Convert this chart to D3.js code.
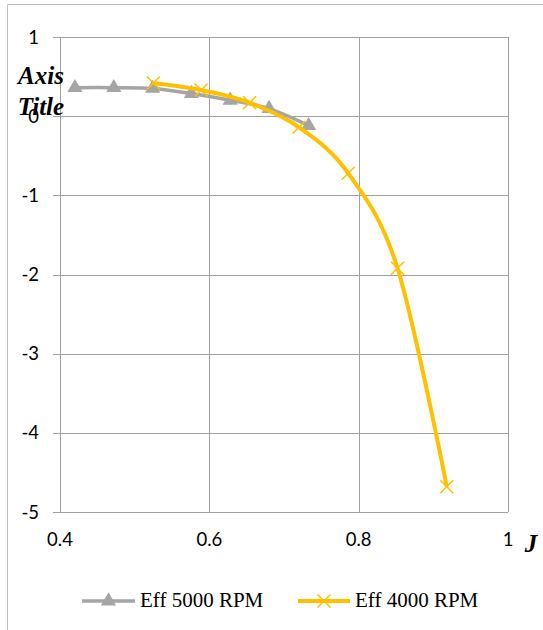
<!DOCTYPE html>
<html>
<head>
<meta charset="utf-8">
<script src="https://cdn.jsdelivr.net/npm/d3@7"></script>
<style>
  html, body { margin: 0; padding: 0; background: #fff; }
  svg { display: block; }
</style>
</head>
<body>
<svg id="chart" width="543" height="630"></svg>
<script>
// Advance ratio J and efficiency for the two rotor speeds
const j5000 = [0.42, 0.472, 0.524, 0.576, 0.628, 0.68, 0.733];
const eff5000 = [0.36, 0.36, 0.35, 0.285, 0.2, 0.095, -0.12];
const j4000 = [0.525, 0.589, 0.654, 0.72, 0.786, 0.852, 0.918];
const eff4000 = [0.42, 0.33, 0.17, -0.14, -0.72, -1.92, -4.68];

const xTicks = [0.4, 0.6, 0.8, 1];
const yTicks = [1, 0, -1, -2, -3, -4, -5];
const seriesNames = ["Eff 5000 RPM", "Eff 4000 RPM"];

const GRAY = "#a5a5a5";
const GOLD = "#ffc000";
const GRID = "#a0a0a0";

const svg = d3.select("#chart");

// chart frame edges
svg.append("line").attr("x1", 7.5).attr("x2", 7.5).attr("y1", 4.5).attr("y2", 630)
  .attr("stroke", "#bfbfbf").attr("stroke-width", 1);
svg.append("line").attr("x1", 7.5).attr("x2", 543).attr("y1", 4.5).attr("y2", 4.5)
  .attr("stroke", "#bfbfbf").attr("stroke-width", 1);

const x = d3.scaleLinear().domain([0.4, 1]).range([60, 508]);
const y = d3.scaleLinear().domain([-5, 1]).range([512, 37]);

// horizontal gridlines with short outside ticks
const gY = svg.append("g");
gY.selectAll("line").data(yTicks).enter().append("line")
  .attr("x1", 53).attr("x2", x(1))
  .attr("y1", d => Math.round(y(d)) + 0.5).attr("y2", d => Math.round(y(d)) + 0.5)
  .attr("stroke", GRID).attr("stroke-width", 1);
// vertical gridlines
const gX = svg.append("g");
gX.selectAll("line").data(xTicks).enter().append("line")
  .attr("x1", d => Math.round(x(d)) + 0.5).attr("x2", d => Math.round(x(d)) + 0.5)
  .attr("y1", y(1)).attr("y2", y(-5))
  .attr("stroke", GRID).attr("stroke-width", 1);

// tick labels (plain hyphen for negatives)
svg.append("g").selectAll("text").data(yTicks).enter().append("text")
  .attr("x", 39).attr("y", d => y(d) + 6.5)
  .attr("text-anchor", "end")
  .attr("font-family", "Lato, sans-serif").attr("font-size", 18.5).attr("fill", "#000")
  .text(d => String(d));
svg.append("g").selectAll("text").data(xTicks).enter().append("text")
  .attr("x", d => x(d)).attr("y", 546)
  .attr("text-anchor", "middle")
  .attr("font-family", "Lato, sans-serif").attr("font-size", 18.5).attr("fill", "#000")
  .text(d => d === 1 ? "1" : d.toFixed(1));

// smoothed series lines
const line = d3.line().x(d => x(d[0])).y(d => y(d[1])).curve(d3.curveCardinal.tension(0));
const s5000 = j5000.map((v, i) => [v, eff5000[i]]);
const s4000 = j4000.map((v, i) => [v, eff4000[i]]);

const tri = d3.symbol().type(d3.symbolTriangle).size(100);

svg.append("path").datum(s5000).attr("d", line)
  .attr("fill", "none").attr("stroke", GRAY).attr("stroke-width", 3.5);
svg.append("g").selectAll("path").data(s5000).enter().append("path")
  .attr("d", tri)
  .attr("transform", d => `translate(${x(d[0])},${y(d[1])})`)
  .attr("fill", GRAY);

svg.append("path").datum(s4000).attr("d", line)
  .attr("fill", "none").attr("stroke", GOLD).attr("stroke-width", 4);
function cross(g, cx, cy, r) {
  g.append("path")
    .attr("d", `M${cx - r},${cy - r}L${cx + r},${cy + r}M${cx - r},${cy + r}L${cx + r},${cy - r}`)
    .attr("stroke", GOLD).attr("stroke-width", 1.5).attr("fill", "none");
}
const gCross = svg.append("g");
s4000.forEach(d => cross(gCross, x(d[0]), y(d[1]), 6.5));

// axis titles
const title = svg.append("text")
  .attr("font-family", "'Liberation Serif', 'Times New Roman', serif")
  .attr("font-weight", "bold").attr("font-style", "italic")
  .attr("font-size", 25).attr("text-anchor", "middle").attr("fill", "#000");
title.append("tspan").attr("x", 41).attr("y", 84).text("Axis");
title.append("tspan").attr("x", 41).attr("y", 114.5).text("Title");

svg.append("text")
  .attr("x", 531).attr("y", 552)
  .attr("font-family", "'Liberation Serif', 'Times New Roman', serif")
  .attr("font-weight", "bold").attr("font-style", "italic")
  .attr("font-size", 25).attr("text-anchor", "middle").attr("fill", "#000")
  .text("J");

// legend
const legend = svg.append("g");
legend.append("line").attr("x1", 82).attr("x2", 135).attr("y1", 601).attr("y2", 601)
  .attr("stroke", GRAY).attr("stroke-width", 3.5);
legend.append("path").attr("d", tri).attr("transform", "translate(108.5,601)").attr("fill", GRAY);
legend.append("text").attr("x", 140).attr("y", 607)
  .attr("font-family", "'Liberation Serif', 'Times New Roman', serif")
  .attr("font-size", 21).attr("fill", "#000").text(seriesNames[0]);

legend.append("line").attr("x1", 298).attr("x2", 350).attr("y1", 601).attr("y2", 601)
  .attr("stroke", GOLD).attr("stroke-width", 4);
cross(legend, 324, 601, 6.5);
legend.append("text").attr("x", 355).attr("y", 607)
  .attr("font-family", "'Liberation Serif', 'Times New Roman', serif")
  .attr("font-size", 21).attr("fill", "#000").text(seriesNames[1]);
</script>
</body>
</html>
